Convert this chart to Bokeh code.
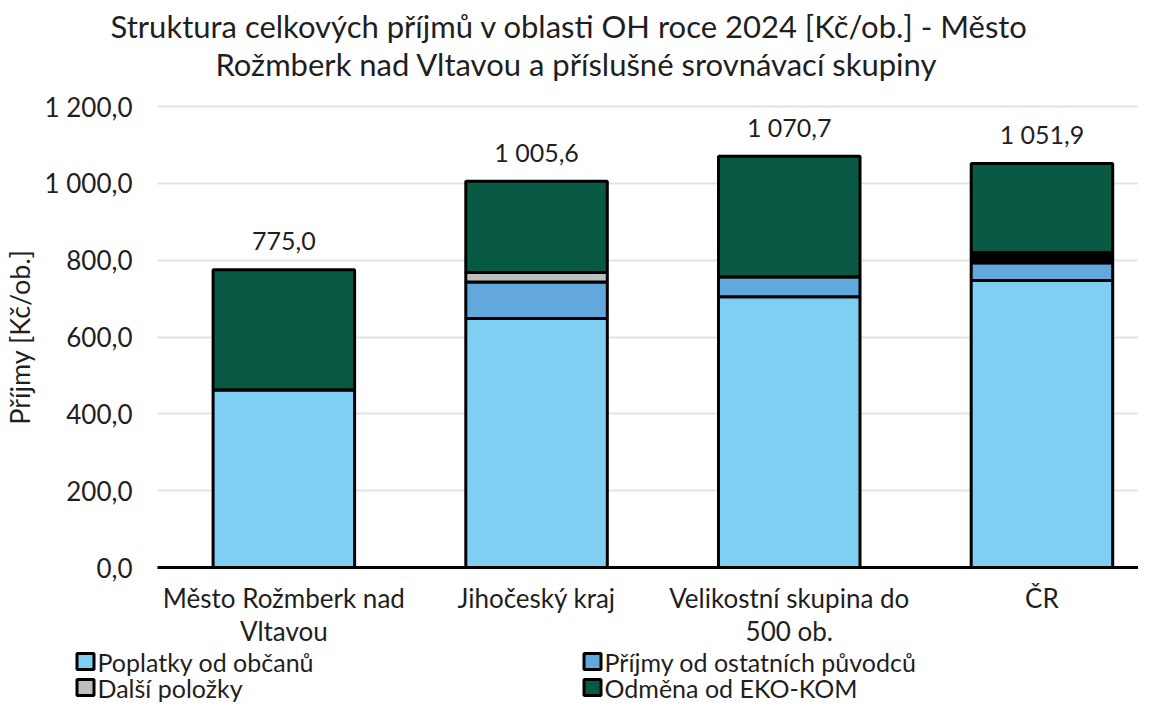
from bokeh.plotting import figure
from bokeh.models import ColumnDataSource, FixedTicker, Range1d, LinearAxis, Grid
from bokeh.core.properties import value
from bokeh.embed import file_html
from bokeh.resources import INLINE

# ---- data ----
categories = ["Město Rožmberk nad Vltavou", "Jihočeský kraj", "Velikostní skupina do 500 ob.", "ČR"]
category_ticks = ["Město Rožmberk nad\nVltavou", "Jihočeský kraj", "Velikostní skupina do\n500 ob.", "ČR"]
poplatky = [463.0, 648.0, 705.0, 747.0]
ostatni = [0.0, 95.0, 52.0, 46.0]
dalsi = [0.0, 25.0, 0.0, 0.0]
neuvedeno = [0.0, 0.0, 0.0, 27.0]
ekokom = [312.0, 237.6, 313.7, 231.9]
series_keys = ["poplatky", "ostatni", "dalsi", "neuvedeno", "ekokom"]
series_names = ["Poplatky od občanů", "Příjmy od ostatních původců", "Další položky", "", "Odměna od EKO-KOM"]
series_colors = ["#7FCFF3", "#63A8DC", "#BFBFBF", "#000000", "#085A45"]
y_ticks = [0, 200, 400, 600, 800, 1000, 1200]
y_tick_labels = ["0,0", "200,0", "400,0", "600,0", "800,0", "1 000,0", "1 200,0"]
title_lines = ["Struktura celkových příjmů v oblasti OH roce 2024 [Kč/ob.] - Město",
               "Rožmberk nad Vltavou a příslušné srovnávací skupiny"]
y_title = "Příjmy [Kč/ob.]"

FONT = "Lato"
TXT = "#1F1F1F"

# ---- geometry (pixels in the picture) ----
W, H = 1138, 704
AX_L, AX_Y0, AX_Y1200 = 157, 567, 106     # plot area: left edge, y of 0 and of 1200
STEP = 252.7                               # px between categories
px_y = (AX_Y0 - AX_Y1200) / 1200.0

def dx(sx):
    return -0.5 + (sx - AX_L) / STEP

def dy(sy):
    return (AX_Y0 - sy) / px_y

x_start, x_end = dx(0), dx(W)
y_start, y_end = dy(H), dy(0)

def cz(v):
    return f"{v:,.1f}".replace(",", " ").replace(".", ",")

xs = list(range(len(categories)))
totals = [round(a + b + c + d + e, 1) for a, b, c, d, e in zip(poplatky, ostatni, dalsi, neuvedeno, ekokom)]
source = ColumnDataSource(dict(x=xs, poplatky=poplatky, ostatni=ostatni, dalsi=dalsi,
                               neuvedeno=neuvedeno, ekokom=ekokom, total=totals,
                               total_label=[cz(v) for v in totals]))

p = figure(width=W, height=H, output_backend="svg", toolbar_location=None,
           x_range=Range1d(x_start, x_end), y_range=Range1d(y_start, y_end),
           x_axis_location=None, y_axis_location=None, min_border=0)
p.outline_line_color = None
p.grid.visible = False

grid = Grid(dimension=1, ticker=FixedTicker(ticks=y_ticks), grid_line_color="#E3E3E3",
            grid_line_width=2, cross_bounds=(-0.5, x_end))
p.add_layout(grid)

p.vbar_stack(series_keys, x="x", width=0.56, source=source,
             fill_color=series_colors, line_color="black", line_width=3)

p.text(x="x", y="total", text="total_label", source=source, text_align="center",
       text_baseline="middle", y_offset=-29, text_font=value(FONT), text_font_size="25px",
       text_color=TXT)

# y axis
yax = LinearAxis(fixed_location=-0.5, bounds=(0, 1200), ticker=FixedTicker(ticks=y_ticks))
yax.major_label_overrides = {tk: lb for tk, lb in zip(y_ticks, y_tick_labels)}
yax.axis_line_color = None
yax.major_tick_line_color = None
yax.minor_tick_line_color = None
yax.major_label_standoff = 19
yax.major_label_text_font = FONT
yax.major_label_text_font_size = "26px"
yax.major_label_text_color = TXT
yax.axis_label = y_title
yax.axis_label_text_font = FONT
yax.axis_label_text_font_style = "normal"
yax.axis_label_text_font_size = "27px"
yax.axis_label_text_color = TXT
yax.axis_label_standoff = 6
p.add_layout(yax, "left")

# x axis
xax = LinearAxis(fixed_location=0, bounds=(-0.5, x_end), ticker=FixedTicker(ticks=xs))
xax.major_label_overrides = {x: lb for x, lb in zip(xs, category_ticks)}
xax.axis_line_color = "black"
xax.axis_line_width = 3
xax.major_tick_line_color = None
xax.minor_tick_line_color = None
xax.major_label_standoff = 8
xax.major_label_text_font = FONT
xax.major_label_text_font_size = "26px"
xax.major_label_text_color = TXT
xax.major_label_text_line_height = 1.06
p.add_layout(xax, "below")

# title
p.text(x=[dx(569), dx(576)], y=[dy(25), dy(63)], text=title_lines, text_align="center",
       text_baseline="middle", text_font=value(FONT), text_font_size="31px", text_color=TXT)

# legend (2 x 2)
entries = [(n, c) for n, c in zip(series_names, series_colors) if n]
col_sx = [85, 592]
row_sy = [661, 687]
lx = [dx(col_sx[i % 2]) for i in range(len(entries))]
ly = [dy(row_sy[i // 2]) for i in range(len(entries))]
p.rect(x=lx, y=ly, width=17, height=16, width_units="screen", height_units="screen",
       fill_color=[c for _, c in entries], line_color="black", line_width=3)
p.text(x=lx, y=ly, x_offset=12, text=[n for n, _ in entries], text_align="left",
       text_baseline="middle", text_font=value(FONT), text_font_size="25px", text_color=TXT)

open("out.html", "w").write(file_html(p, INLINE))
